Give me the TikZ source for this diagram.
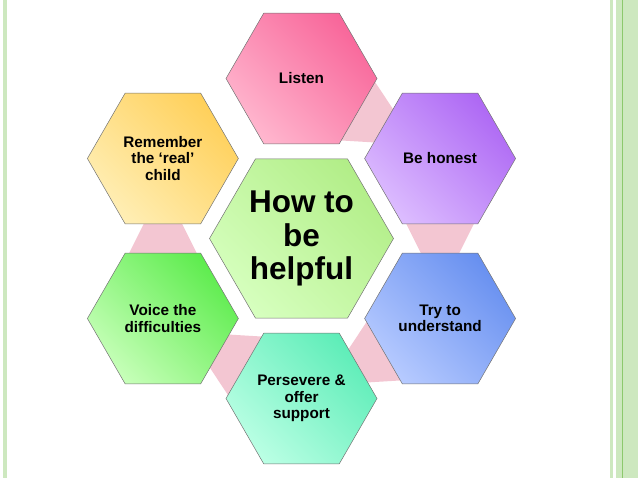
\documentclass[tikz,border=0pt]{standalone}
\usepackage{fontspec}
\setmainfont{Liberation Sans}
\usetikzlibrary{shapes.geometric,positioning,calc,backgrounds}

\definecolor{listendark}{HTML}{F8669A}
\definecolor{listenlight}{HTML}{FFB6CE}
\definecolor{honestdark}{HTML}{AE68F4}
\definecolor{honestlight}{HTML}{DCBCFF}
\definecolor{trydark}{HTML}{6890F0}
\definecolor{trylight}{HTML}{B6CAFF}
\definecolor{perseveredark}{HTML}{5EEDB8}
\definecolor{perseverelight}{HTML}{BAFFE4}
\definecolor{voicedark}{HTML}{5EEC4E}
\definecolor{voicelight}{HTML}{C6FFB8}
\definecolor{rememberdark}{HTML}{FFD05A}
\definecolor{rememberlight}{HTML}{FFEEB4}
\definecolor{centredark}{HTML}{B2EE88}
\definecolor{centrelight}{HTML}{D6FFBE}
\definecolor{linkpink}{HTML}{F3C6D2}
\definecolor{rulegreen}{HTML}{CDE8BF}
\definecolor{rulegreendark}{HTML}{8CC96C}

\begin{document}
\begin{tikzpicture}
                    [x=1pt,y=-1pt,
                     hex/.style={regular polygon,regular polygon sides=6,inner sep=0pt,
                                 draw=black!55,line width=0.5pt,align=center},
                     small/.style={hex,minimum size=151pt,font=\fontsize{15.3}{16.3}\selectfont\bfseries},
                     big/.style={hex,minimum size=184pt,font=\fontsize{31.5}{33.5}\selectfont\bfseries},
                     tint/.style 2 args={top color=#1,bottom color=#2,shading angle=-45},
                     link/.style={fill=linkpink}]

                        \useasboundingbox (0,0) rectangle (638,479);

                        % side rules
                        \fill[rulegreen] (3,0) rectangle (7,478);
                        \fill[rulegreen] (610,0) rectangle (612.5,478);
                        \fill[rulegreen] (616,0) rectangle (638,478);
                        \draw[rulegreendark,line width=0.8pt] (622,0) -- (622,478);

                        \node[big,tint={centredark}{centrelight}] (centre) at (301.5,238.5) {How to\\be\\helpful};

                        \node[small,tint={listendark}{listenlight}] (listen) at ($(centre)+(0,-160)$) {Listen};
                        \node[small,tint={honestdark}{honestlight}] (honest) at ($(centre)+(138.6,-80)$) {Be honest};
                        \node[small,tint={trydark}{trylight}] (understand) at ($(centre)+(138.6,80)$) {Try to\\understand};
                        \node[small,tint={perseveredark}{perseverelight}] (persevere) at ($(centre)+(0,160)$) {Persevere \&\\offer\\support};
                        \node[small,tint={voicedark}{voicelight}] (voice) at ($(centre)+(-138.6,80)$) {Voice the\\difficulties};
                        \node[small,tint={rememberdark}{rememberlight}] (remember) at ($(centre)+(-138.6,-80)$) {Remember\\the ‘real’\\child};

                        \begin{scope}[on background layer]
                        \foreach \a/\b in {listen/honest,honest/understand,understand/persevere,persevere/voice,voice/remember}{
                            \coordinate (s) at ($(\a.center)!64pt!(\b.center)$);
                            \coordinate (t) at ($(\b.center)!64pt!(\a.center)$);
                            \fill[link] ($(s)!34.5pt!90:(\b.center)$) -- ($(t)!18.5pt!-90:(\a.center)$)
                                     -- ($(t)!18.5pt!90:(\a.center)$) -- ($(s)!34.5pt!-90:(\b.center)$) -- cycle;
                        }
                        \end{scope}

                \end{tikzpicture}
\end{document}
